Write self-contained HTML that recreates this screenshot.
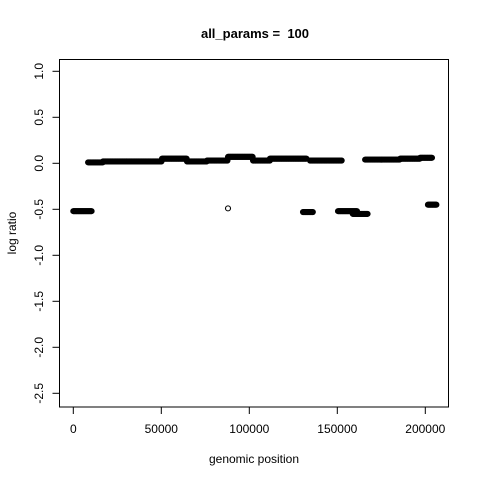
<!DOCTYPE html>
<html><head><meta charset="utf-8"><style>
body{margin:0;background:#fff}
svg{display:block;font-family:"Liberation Sans",Arial,sans-serif}
</style></head><body>
<svg id="chart" width="480" height="480" viewBox="0 0 480 480">
<rect width="480" height="480" fill="#fff"/>
<text x="255" y="38" text-anchor="middle" font-size="13" font-weight="bold" style="white-space:pre">all_params =  100</text>
<rect x="59.5" y="59.5" width="389" height="347.5" fill="none" stroke="#000"/>
<g id="xaxis"></g>
<g id="yaxis"></g>
<text x="254" y="463" text-anchor="middle" font-size="12">genomic position</text>
<text transform="translate(16,233) rotate(-90)" text-anchor="middle" font-size="12">log ratio</text>
<g id="points"></g>
</svg>
<script>
const xTicks=[0,50000,100000,150000,200000];
const yTicks=[1.0,0.5,0.0,-0.5,-1.0,-1.5,-2.0,-2.5];
const segStart=[0,8400,16900,50400,64600,76000,87900,102100,111700,134500,165800,185700,197000,130500,150400,158800,201500];
const segEnd=[10600,16900,50400,64600,76000,87900,102100,111700,132800,152700,185700,197000,203800,136200,161200,167300,206600];
const segVal=[-0.52,0.01,0.02,0.05,0.02,0.03,0.07,0.03,0.05,0.03,0.04,0.05,0.06,-0.53,-0.52,-0.55,-0.45];
const singleX=[87900];
const singleY=[-0.49];
const NS="http://www.w3.org/2000/svg";
function xs(v){return 73.3+v/50000*88;}
function ys(v){return 163.3-v*92;}
const xa=document.getElementById('xaxis'),ya=document.getElementById('yaxis'),pg=document.getElementById('points');
function mk(tag,attrs,parent){const e=document.createElementNS(NS,tag);for(const k in attrs)e.setAttribute(k,attrs[k]);parent.appendChild(e);return e;}
mk('line',{x1:xs(xTicks[0]),x2:xs(xTicks[xTicks.length-1]),y1:407,y2:407,stroke:'#000'},xa);
xTicks.forEach(t=>{
  const l=mk('line',{x1:xs(t),x2:xs(t),y1:407,y2:414,stroke:'#000'},xa);
  
  
  const tx=mk('text',{x:xs(t),y:433,'text-anchor':'middle','font-size':'12'},xa);
  tx.textContent=String(t);
  
  
});
mk('line',{x1:59.5,x2:59.5,y1:ys(yTicks[0]),y2:ys(yTicks[yTicks.length-1]),stroke:'#000'},ya);
yTicks.forEach(t=>{
  const l=mk('line',{x1:52.5,x2:59.5,y1:ys(t),y2:ys(t),stroke:'#000'},ya);
  
  
  const tx=mk('text',{transform:`translate(43,${ys(t)}) rotate(-90)`,'text-anchor':'middle','font-size':'12'},ya);
  tx.textContent=t.toFixed(1);
  
  
});
function pt(x,y){
  const c=mk('circle',{cx:xs(x),cy:ys(y),r:2.5,fill:'none',stroke:'#000','stroke-width':1.1},pg);
  
  
}
for(let i=0;i<segStart.length;i++){
  for(let x=segStart[i];x<=segEnd[i];x+=400)pt(x,segVal[i]);
}
singleX.forEach((x,i)=>pt(x,singleY[i]));
</script>
</body></html>
